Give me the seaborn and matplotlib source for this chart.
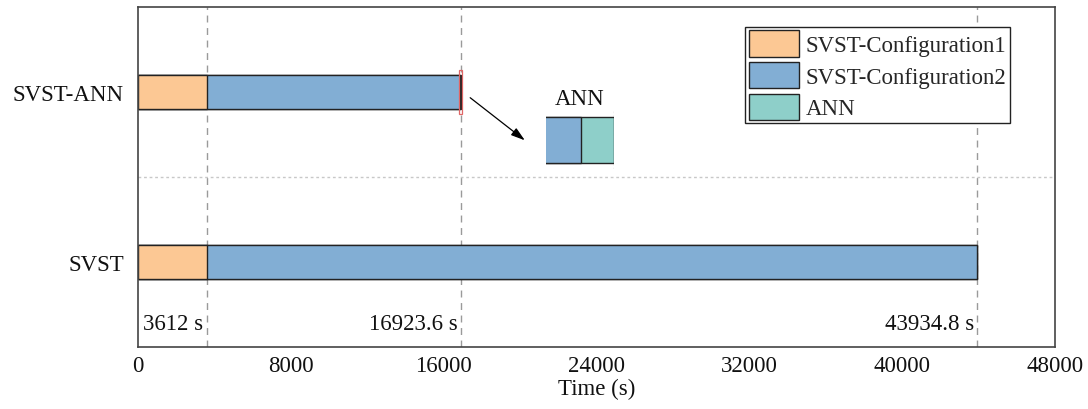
import matplotlib
matplotlib.use("Agg")
import matplotlib.pyplot as plt
from matplotlib.patches import Patch, Rectangle
import pandas as pd
import seaborn as sns

# Run-time breakdown per method (seconds)
methods = ["SVST-ANN", "SVST"]
config1_time = [3612.0, 3612.0]
config2_time = [13251.6, 40322.8]
ann_time = [60.0, 0.0]
x_ticks = [0, 8000, 16000, 24000, 32000, 40000, 48000]
legend_labels = ["SVST-Configuration1", "SVST-Configuration2", "ANN"]

colors = ["#FCC894", "#82AED4", "#8ECFC9"]
edge = "#222222"
FS = 16.5

sns.set_theme(style="white")
plt.rcParams["font.family"] = ["Liberation Serif", "DejaVu Serif"]
plt.rcParams["mathtext.fontset"] = "stix"

df = pd.DataFrame({"method": methods, "c1": config1_time,
                   "c2": config2_time, "ann": ann_time})
df["t1"] = df["c1"]
df["t2"] = df["c1"] + df["c2"]
df["t3"] = df["t2"] + df["ann"]

fig = plt.figure(figsize=(10.88, 4.10), dpi=100)
ax = fig.add_axes([138 / 1088, 1 - 348 / 410, 917 / 1088, 340 / 410])

bar_kw = dict(orient="h", order=methods, width=0.2, saturation=1,
              edgecolor=edge, linewidth=1.0, errorbar=None)
# stacked bars drawn as overlapping cumulative totals
sns.barplot(data=df, y="method", x="t3", color=colors[2], ax=ax, **bar_kw)
sns.barplot(data=df, y="method", x="t2", color=colors[1], ax=ax, **bar_kw)
sns.barplot(data=df, y="method", x="t1", color=colors[0], ax=ax, **bar_kw)

totals = [df["t1"].iloc[0], df["t3"].iloc[0], df["t3"].iloc[1]]
for t in totals:
    ax.axvline(t, color="#9a9a9a", lw=1.0, ls=(0, (5, 4)), zorder=0.5)
    ax.text(t - 180, 1.36, f"{t:g} s", ha="right", va="center", fontsize=FS,
            color="#111111")
ax.axhline(0.5, color="#c8c8c8", lw=1.0, ls=(0, (2, 2)), zorder=0.5)

ax.set_xlim(0, 48000)
ax.set_ylim(1.5, -0.5)
ax.set_xticks(x_ticks)
ax.set_xticklabels([str(v) for v in x_ticks])
ax.tick_params(axis="x", direction="in", length=4, labelsize=FS, pad=6,
               colors="#333333", labelcolor="#111111")
ax.tick_params(axis="y", length=0, labelsize=FS, pad=10, labelcolor="#111111")
ax.set_xlabel("Time (s)", fontsize=FS, labelpad=1, color="#111111")
ax.set_ylabel("")
for s in ax.spines.values():
    s.set_color("#444444")
    s.set_linewidth(1.2)

# zoom window on the ANN segment
end = df["t3"].iloc[0]
span = ann_time[0] * 67 / 32
ax.add_patch(Rectangle((end - span, -0.13), span + 25, 0.26, fill=False,
                       edgecolor="#E06666", lw=0.9, zorder=5))

axin = fig.add_axes([546 / 1088, 1 - 170 / 410, 68 / 1088, 58 / 410])
in_kw = dict(orient="h", width=0.79, saturation=1, edgecolor=edge,
             linewidth=1.0, errorbar=None)
sns.barplot(data=df.iloc[:1], y="method", x="t3", color=colors[2], ax=axin, **in_kw)
sns.barplot(data=df.iloc[:1], y="method", x="t2", color=colors[1], ax=axin, **in_kw)
axin.axvline(end, color="#9a9a9a", lw=0.9, ls=(0, (1.5, 1.5)), zorder=5)
axin.set_xlim(end - span, end + 0.6)
axin.set_ylim(0.5, -0.5)
axin.set_axis_off()
axin.set_title("ANN", fontsize=FS, pad=5, color="#111111")

ax.annotate("", xy=(527 / 1088, 1 - 143 / 410), xytext=(468 / 1088, 1 - 97 / 410),
            xycoords="figure fraction", textcoords="figure fraction",
            arrowprops=dict(arrowstyle="-|>,head_length=0.7,head_width=0.22",
                            color="black", lw=0.9))

handles = [Patch(facecolor=c, edgecolor=edge, lw=1.0) for c in colors]
leg = ax.legend(handles, legend_labels, loc="upper right",
                bbox_to_anchor=(0.951, 0.941), borderaxespad=0, fontsize=FS,
                handlelength=2.2, handleheight=1.4, labelspacing=0.22,
                handletextpad=0.3, borderpad=0.15, fancybox=False,
                framealpha=1, edgecolor="#222222")
leg.get_frame().set_linewidth(1.0)

fig.savefig("out.png", dpi=100)
